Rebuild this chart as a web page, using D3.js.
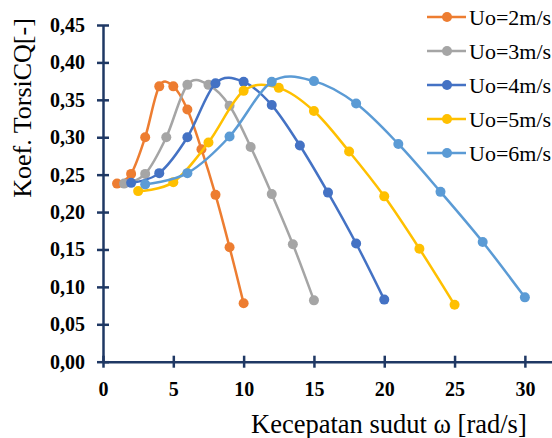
<!DOCTYPE html>
<html>
<head>
<meta charset="utf-8">
<script src="https://d3js.org/d3.v7.min.js"></script>
<style>
  body { margin: 0; background: #fff; }
  svg { display: block; font-family: "Liberation Serif", "Times New Roman", serif; }
</style>
</head>
<body>
<div class="chart"></div>
<script>
// values
const speeds = ["Uo=2m/s", "Uo=3m/s", "Uo=4m/s", "Uo=5m/s", "Uo=6m/s"];
const omega2 = [1, 2, 3, 4, 5, 6, 7, 8, 9, 10];
const cq2 = [0.238, 0.251, 0.300, 0.368, 0.368, 0.337, 0.284, 0.223, 0.153, 0.078];
const omega3 = [1.5, 3, 4.5, 6, 7.5, 9, 10.5, 12, 13.5, 15];
const cq3 = [0.238, 0.251, 0.300, 0.370, 0.370, 0.342, 0.287, 0.224, 0.157, 0.082];
const omega4 = [2, 4, 6, 8, 10, 12, 14, 16, 18, 20];
const cq4 = [0.239, 0.252, 0.300, 0.372, 0.374, 0.343, 0.289, 0.226, 0.158, 0.083];
const omega5 = [2.5, 5, 7.5, 10, 12.5, 15, 17.5, 20, 22.5, 25];
const cq5 = [0.228, 0.240, 0.293, 0.362, 0.366, 0.335, 0.281, 0.221, 0.151, 0.076];
const omega6 = [3, 6, 9, 12, 15, 18, 21, 24, 27, 30];
const cq6 = [0.237, 0.252, 0.301, 0.374, 0.375, 0.345, 0.291, 0.227, 0.160, 0.086];
const xTicks = [0, 5, 10, 15, 20, 25, 30];
const yTicks = [0, 0.05, 0.10, 0.15, 0.20, 0.25, 0.30, 0.35, 0.40, 0.45];

const colors = ["#ED7D31", "#A5A5A5", "#4472C4", "#FFC000", "#5B9BD5"];
const axisColor = "#1F3864";

const xs = [omega2, omega3, omega4, omega5, omega6];
const ys = [cq2, cq3, cq4, cq5, cq6];
const series = speeds.map((name, i) => ({
  name: name,
  color: colors[i],
  pts: xs[i].map((x, j) => ({ x: x, y: ys[i][j] }))
}));

const W = 552, H = 438;
const svg = d3.select(".chart").append("svg")
  .attr("width", W)
  .attr("height", H);

const x = d3.scaleLinear().domain([0, 32]).range([103, 553]);
const y = d3.scaleLinear().domain([0, 0.45]).range([361.7, 25]);

// axes
const xAxis = d3.axisBottom(x).tickValues(xTicks).tickSize(6).tickSizeOuter(0).tickPadding(14);
const yAxis = d3.axisLeft(y).tickValues(yTicks).tickSize(6).tickSizeOuter(0).tickPadding(12)
  .tickFormat(d => d3.format(".2f")(d).replace(".", ","));

const gx = svg.append("g").attr("class", "x-axis")
  .attr("transform", `translate(0,${y(0)})`)
  .call(xAxis);
const gy = svg.append("g").attr("class", "y-axis")
  .attr("transform", `translate(${x(0)},0)`)
  .call(yAxis);

[gx, gy].forEach(g => {
  g.select(".domain").attr("stroke", axisColor).attr("stroke-width", 2.5);
  g.selectAll(".tick line").attr("stroke", axisColor).attr("stroke-width", 2.5);
  g.selectAll(".tick text")
    .attr("fill", "#000")
    .style("font-family", "Liberation Serif, serif")
    .style("font-weight", "bold")
    .style("font-size", "20px");
});
// ticks cross the axis line
gx.selectAll(".tick line").attr("y1", -6).attr("y2", 6);
gy.selectAll(".tick line").attr("x1", -6).attr("x2", 6);

// lines
const line = d3.line()
  .x(d => x(d.x))
  .y(d => y(d.y))
  .curve(d3.curveCardinal.tension(0));

series.forEach(s => {
  const g = svg.append("g").attr("class", "series");
  g.append("path")
    .datum(s.pts)
    .attr("fill", "none")
    .attr("stroke", s.color)
    .attr("stroke-width", 2.5)
    .attr("d", line);
  g.selectAll("circle")
    .data(s.pts)
    .enter()
    .append("circle")
    .attr("cx", d => x(d.x))
    .attr("cy", d => y(d.y))
    .attr("r", 5)
    .attr("fill", s.color);
});

// legend
const legend = svg.append("g").attr("class", "legend");
series.forEach((s, i) => {
  const ly = 17 + i * 34;
  legend.append("line")
    .attr("x1", 427).attr("x2", 466)
    .attr("y1", ly).attr("y2", ly)
    .attr("stroke", s.color).attr("stroke-width", 2.5);
  legend.append("circle")
    .attr("cx", 447).attr("cy", ly).attr("r", 5)
    .attr("fill", s.color);
  legend.append("text")
    .attr("x", 469).attr("y", ly + 8)
    .style("font-size", "22px")
    .text(s.name);
});

// axis titles
svg.append("text")
  .attr("class", "x-axis-title")
  .attr("x", 251).attr("y", 433)
  .style("font-size", "26.5px")
  .text("Kecepatan sudut ω [rad/s]");

svg.append("text")
  .attr("class", "y-axis-title")
  .attr("transform", "translate(31,108) rotate(-90)")
  .attr("text-anchor", "middle")
  .style("font-size", "26px")
  .text("Koef. TorsiCQ[-]");
</script>
</body>
</html>
